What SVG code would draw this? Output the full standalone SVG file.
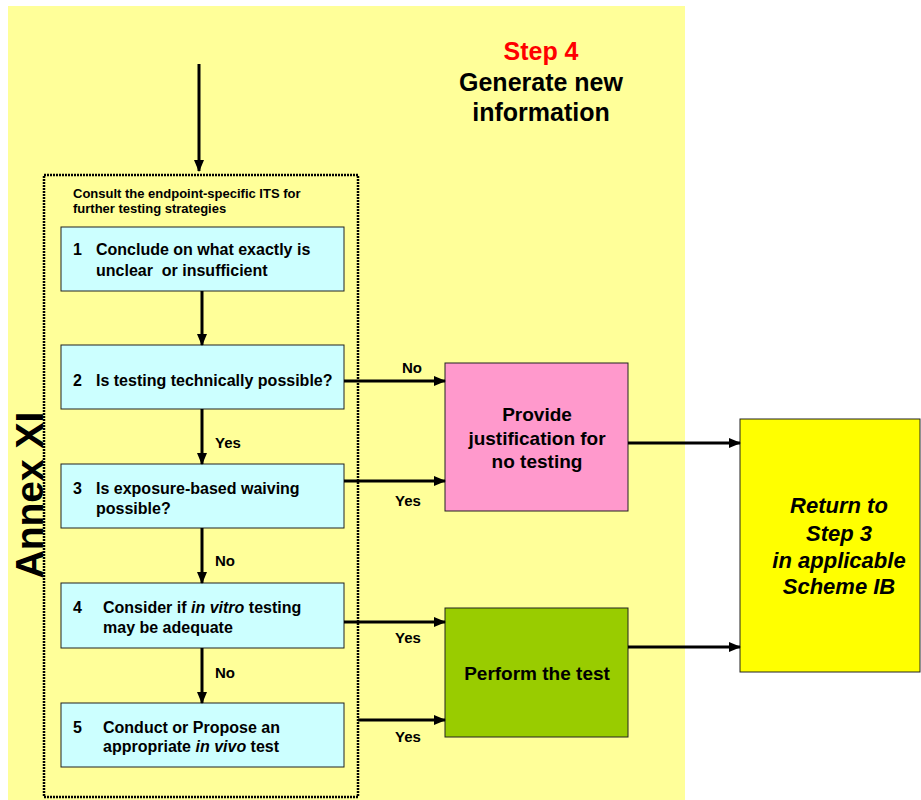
<svg xmlns="http://www.w3.org/2000/svg" width="921" height="800" viewBox="0 0 921 800">
<defs>
<style>
text{font-family:"Liberation Sans",Arial,sans-serif;font-weight:bold;fill:#000}
.box{stroke:#222;stroke-width:1}
.lbl{font-size:15px}
.bt{font-size:16px}
.conn{stroke:#000;stroke-width:3;fill:none;marker-end:url(#ah)}
</style>
<marker id="ah" markerUnits="userSpaceOnUse" markerWidth="12" markerHeight="10" refX="11" refY="5" orient="auto">
<path d="M0,0 L12,5 L0,10 Z" fill="#000"/>
</marker>
</defs>
<rect x="0" y="0" width="921" height="800" fill="#fff"/>
<rect x="8" y="6" width="677" height="794" fill="#FFFF99"/>
<g id="title">
<text x="541" y="60" font-size="25" text-anchor="middle" fill="#FF0000" style="fill:#FF0000">Step 4</text>
<text x="541" y="91" font-size="25" text-anchor="middle">Generate new</text>
<text x="541" y="121" font-size="25" text-anchor="middle">information</text>
</g>
<g id="annex">
<rect x="44" y="175" width="314" height="622" fill="none" stroke="#000" stroke-width="2.5" stroke-dasharray="2 1"/>
<text transform="translate(43,495) rotate(-90)" font-size="39" text-anchor="middle">Annex XI</text>
<text x="73" y="198" font-size="13">Consult the endpoint-specific ITS for</text>
<text x="73" y="213" font-size="13">further testing strategies</text>
</g>
<g id="n1">
<rect class="box" x="61" y="227" width="283" height="64" fill="#CCFFFF"/>
<text class="bt" x="73" y="255">1</text>
<text class="bt" x="96" y="255">Conclude on what exactly is</text>
<text class="bt" x="96" y="276" xml:space="preserve" style="white-space:pre">unclear  or insufficient</text>
</g>
<g id="n2">
<rect class="box" x="61" y="345" width="283" height="64" fill="#CCFFFF"/>
<text class="bt" x="73" y="386">2</text>
<text class="bt" x="96" y="386">Is testing technically possible?</text>
</g>
<g id="n3">
<rect class="box" x="61" y="464" width="283" height="64" fill="#CCFFFF"/>
<text class="bt" x="73" y="494">3</text>
<text class="bt" x="96" y="494">Is exposure-based waiving</text>
<text class="bt" x="96" y="514">possible?</text>
</g>
<g id="n4">
<rect class="box" x="61" y="583" width="283" height="65" fill="#CCFFFF"/>
<text class="bt" x="73" y="613">4</text>
<text class="bt" x="103" y="613">Consider if <tspan font-style="italic">in vitro</tspan> testing</text>
<text class="bt" x="103" y="633">may be adequate</text>
</g>
<g id="n5">
<rect class="box" x="61" y="703" width="283" height="64" fill="#CCFFFF"/>
<text class="bt" x="73" y="733">5</text>
<text class="bt" x="103" y="733">Conduct or Propose an</text>
<text class="bt" x="103" y="752">appropriate <tspan font-style="italic">in vivo</tspan> test</text>
</g>
<g id="justify">
<rect class="box" x="445" y="363" width="183" height="148" fill="#FF99CC"/>
<text x="537" y="421" font-size="19" text-anchor="middle">Provide</text>
<text x="537" y="445" font-size="19" text-anchor="middle">justification for</text>
<text x="537" y="468" font-size="19" text-anchor="middle">no testing</text>
</g>
<g id="perform">
<rect class="box" x="445" y="608" width="183" height="129" fill="#99CC00"/>
<text x="537" y="680" font-size="19" text-anchor="middle">Perform the test</text>
</g>
<g id="return">
<rect class="box" x="740" y="419" width="180" height="253" fill="#FFFF00"/>
<text x="839" y="513" font-size="22" font-style="italic" text-anchor="middle">Return to</text>
<text x="839" y="541" font-size="22" font-style="italic" text-anchor="middle">Step 3</text>
<text x="839" y="568" font-size="22" font-style="italic" text-anchor="middle">in applicable</text>
<text x="839" y="594" font-size="22" font-style="italic" text-anchor="middle">Scheme IB</text>
</g>
<g id="connectors">
<line class="conn" x1="199" y1="64" x2="199" y2="171"/>
<line class="conn" x1="202" y1="291" x2="202" y2="345"/>
<line class="conn" x1="202" y1="409" x2="202" y2="464"/>
<line class="conn" x1="202" y1="528" x2="202" y2="583"/>
<line class="conn" x1="202" y1="648" x2="202" y2="703"/>
<line class="conn" x1="344" y1="381" x2="445" y2="381"/>
<line class="conn" x1="344" y1="481" x2="445" y2="481"/>
<line class="conn" x1="344" y1="622" x2="445" y2="622"/>
<line class="conn" x1="358" y1="720" x2="445" y2="720"/>
<line class="conn" x1="628" y1="443" x2="740" y2="443"/>
<line class="conn" x1="628" y1="647" x2="740" y2="647"/>
<text class="lbl" x="215" y="448">Yes</text>
<text class="lbl" x="215" y="566">No</text>
<text class="lbl" x="215" y="678">No</text>
<text class="lbl" x="402" y="373">No</text>
<text class="lbl" x="395" y="506">Yes</text>
<text class="lbl" x="395" y="643">Yes</text>
<text class="lbl" x="395" y="742">Yes</text>
</g>
</svg>
